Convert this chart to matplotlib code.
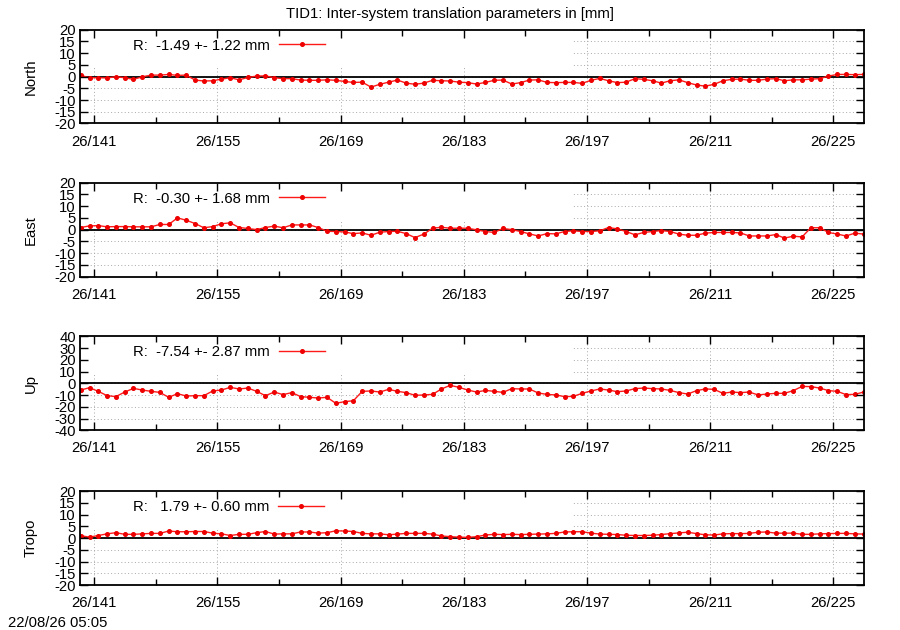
import matplotlib
matplotlib.use("Agg")
import matplotlib.pyplot as plt
from matplotlib.ticker import MultipleLocator, FuncFormatter
from matplotlib.patches import Rectangle

plt.rcParams['font.family'] = ['Liberation Sans', 'DejaVu Sans']
plt.rcParams['font.size'] = 10.7
plt.rcParams['axes.unicode_minus'] = False

title = "TID1: Inter-system translation parameters in [mm]"
stamp = "22/08/26 05:05"
year_prefix = "26"

# day-of-year epochs (daily solutions)
doy = [139.45 + i for i in range(90)]

north = [0.5, -0.5, -0.5, -0.6, -0.1, -0.5, -1.2, -0.1, 0.6, 0.6,
         0.9, 0.5, 0.6, -1.5, -1.9, -1.8, -1.1, -0.5, -1.4, -0.4,
         0.2, 0.3, -0.5, -0.9, -0.9, -1.5, -1.6, -1.6, -1.4, -1.6,
         -2.1, -2.5, -2.4, -4.5, -3.3, -2.4, -1.5, -2.8, -3.3, -2.8,
         -1.6, -1.8, -1.9, -2.4, -2.6, -3.2, -2.5, -1.6, -1.5, -3.2,
         -2.6, -1.5, -1.4, -2.5, -2.6, -2.5, -2.5, -2.9, -1.6, -0.8,
         -1.8, -2.6, -2.4, -0.9, -1.2, -1.8, -2.8, -1.8, -1.4, -2.6,
         -3.6, -4.1, -3.3, -1.8, -1.2, -1.1, -1.6, -1.6, -1.1, -0.9,
         -1.8, -1.4, -1.4, -1.1, -0.9, 0.2, 0.9, 0.9, 0.8, 0.9]

east = [0.9, 1.6, 1.7, 1.2, 1.3, 1.3, 1.2, 1.2, 1.2, 2.2,
        2.2, 5.0, 4.0, 2.6, 0.8, 1.3, 2.5, 2.9, 0.9, 0.5,
        0.0, 0.9, 1.5, 0.8, 2.0, 2.0, 2.0, 0.9, -0.7, -0.8,
        -1.0, -1.7, -1.4, -2.4, -1.1, -0.8, -0.7, -1.7, -3.4, -1.9,
        0.6, 1.0, 0.6, 0.6, 0.6, -0.1, -0.8, -1.2, 0.5, 0.0,
        -0.8, -1.8, -2.7, -1.7, -1.8, -0.8, -0.5, -0.8, -0.8, -0.5,
        0.9, 0.3, -0.8, -2.2, -1.2, -0.8, -0.4, -0.8, -1.9, -2.4,
        -2.4, -1.5, -1.2, -1.2, -1.2, -1.4, -2.7, -2.7, -2.7, -2.1,
        -3.6, -2.8, -3.1, 0.8, 0.8, -1.2, -1.9, -2.7, -1.5, -1.9]

up = [-5.7, -3.7, -6.8, -10.5, -11.3, -7.4, -4.3, -5.7, -6.8, -7.7,
      -11.9, -8.8, -10.8, -10.5, -10.5, -6.5, -5.7, -3.4, -4.8, -4.0,
      -6.8, -10.5, -7.4, -9.6, -7.9, -11.3, -11.9, -12.5, -11.9, -17.0,
      -15.6, -14.8, -6.8, -6.5, -7.4, -5.1, -6.8, -7.9, -10.2, -9.9,
      -9.4, -4.8, -1.7, -3.4, -5.7, -7.4, -6.0, -6.8, -7.7, -4.5,
      -4.8, -4.8, -8.2, -9.4, -9.9, -11.3, -11.1, -8.5, -6.5, -4.8,
      -5.7, -7.1, -6.5, -4.5, -4.0, -4.5, -4.8, -6.0, -7.9, -9.1,
      -6.2, -4.8, -5.1, -8.5, -7.4, -7.9, -7.4, -9.9, -9.1, -8.5,
      -8.5, -6.2, -2.6, -2.8, -4.0, -6.2, -6.8, -9.6, -9.4, -7.4]

tropo = [1.0, 0.4, 1.1, 1.8, 2.3, 1.6, 1.6, 1.8, 2.0, 2.0,
         3.0, 2.7, 2.7, 2.8, 2.8, 2.1, 1.8, 1.1, 1.6, 1.6,
         2.3, 2.8, 1.7, 1.8, 1.8, 2.6, 2.6, 2.1, 2.3, 3.1,
         3.0, 2.8, 2.0, 1.8, 1.8, 1.4, 1.7, 2.0, 2.0, 2.0,
         1.7, 0.9, 0.6, 0.4, 0.3, 0.6, 1.3, 1.6, 1.5, 1.6,
         1.5, 1.6, 1.7, 1.8, 2.0, 2.6, 2.7, 2.7, 2.1, 1.7,
         1.6, 1.5, 1.2, 1.1, 1.1, 1.2, 1.5, 1.9, 2.2, 2.5,
         1.9, 1.4, 1.3, 1.8, 1.9, 1.9, 2.0, 2.5, 2.6, 2.1,
         2.1, 2.1, 1.6, 1.6, 1.8, 1.9, 2.0, 2.0, 1.8, 1.7]

names = ["North", "East", "Up", "Tropo"]
series = [north, east, up, tropo]
means = [-1.49, -0.30, -7.54, 1.79]
stds = [1.22, 1.68, 2.87, 0.60]
ylims = [(-20, 20), (-20, 20), (-40, 40), (-20, 20)]
ysteps = [5, 5, 10, 5]

fig = plt.figure(figsize=(9, 6.3), dpi=100)

left, width, height = 80 / 900, 784 / 900, 0.149
bottoms = [0.804, 0.561, 0.317, 0.0714]
xlim = (139.37, 228.49)

for name, vals, mu, sd, yl, ys, b in zip(names, series, means, stds, ylims, ysteps, bottoms):
    ax = fig.add_axes([left, b, width, height])
    ax.set_xlim(*xlim)
    ax.set_ylim(*yl)
    ax.xaxis.set_major_locator(MultipleLocator(14, offset=1))
    ax.xaxis.set_minor_locator(MultipleLocator(7, offset=1))
    ax.xaxis.set_major_formatter(FuncFormatter(lambda v, p: f"{year_prefix}/{int(round(v))}"))
    ax.yaxis.set_major_locator(MultipleLocator(ys))
    ax.grid(True, which='major', color='#a8a8a8', lw=0.7, ls=(0, (1, 2.5)))
    ax.set_axisbelow(True)
    ax.tick_params(which='both', length=0)
    ax.tick_params(axis='x', pad=8)
    ax.tick_params(axis='y', pad=3)
    for s in ax.spines.values():
        s.set_visible(False)
    # opaque key box hiding the grid (gnuplot style)
    ax.add_patch(Rectangle((0, 0.6), 0.629, 0.4, transform=ax.transAxes,
                           facecolor='white', edgecolor='none', zorder=1))
    ax.axhline(0, color='black', lw=1.3, zorder=2)
    label = f"R:  {mu:5.2f} +- {sd:4.2f} mm"
    ax.plot(doy, vals, color='#ff1a1a', lw=1.0, marker='o', ms=2.6,
            markerfacecolor='#ee0000', markeredgecolor='#ee0000',
            zorder=3, label=label)
    ax.legend(loc='center left', bbox_to_anchor=(0.0676, 0.83), frameon=False,
              markerfirst=False, numpoints=1, handlelength=3.1,
              handletextpad=0.6, borderpad=0, borderaxespad=0)
    ax.set_ylabel(name)
    ax.yaxis.set_label_coords(-0.054, 0.5)

    axt = fig.add_axes([left, b, width, height], sharex=ax, sharey=ax)
    axt.patch.set_visible(False)
    axt.tick_params(which='both', direction='in', top=True, right=True,
                    bottom=True, left=True, labelleft=False, labelbottom=False,
                    width=1.0, color='black')
    axt.tick_params(which='major', length=5.5)
    axt.tick_params(which='minor', length=4)
    for s in axt.spines.values():
        s.set_linewidth(1.3)

fig.text(0.5, 1 - 14 / 630, title, ha='center', va='center')
fig.text(8 / 900, 1 - 623 / 630, stamp, ha='left', va='center')

fig.savefig("out.png", dpi=100)
